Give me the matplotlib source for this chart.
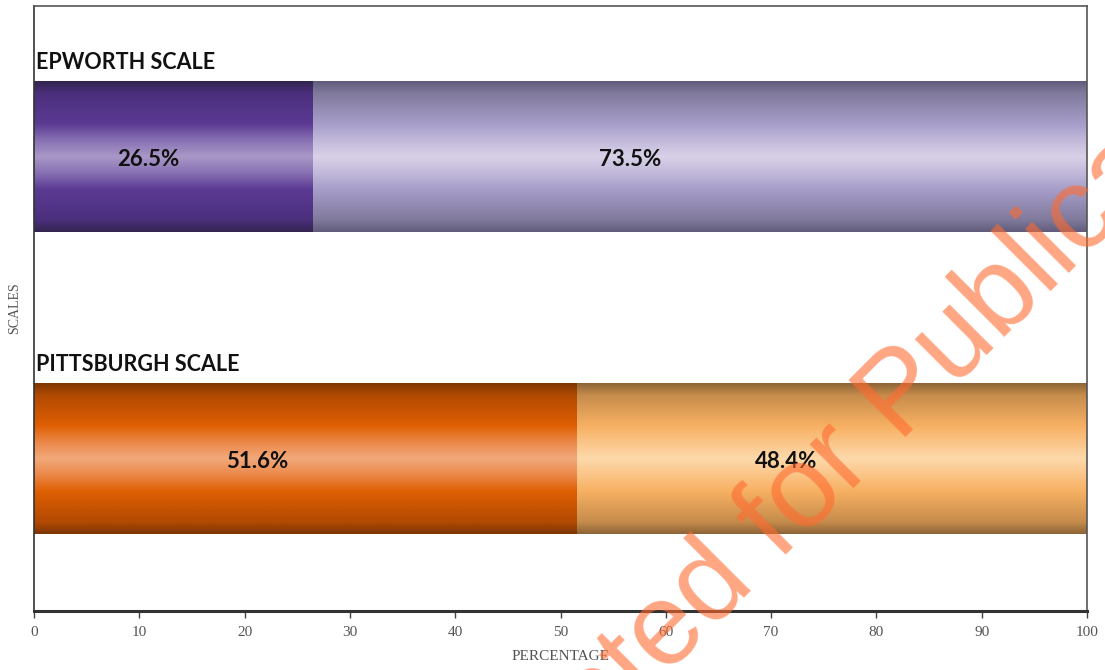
import numpy as np
import matplotlib.pyplot as plt
from matplotlib.colors import LinearSegmentedColormap

# ---- data ----
scales = ['PITTSBURGH SCALE', 'EPWORTH SCALE']
first_pct = [51.6, 26.5]
second_pct = [48.4, 73.5]
x_ticks = [0, 10, 20, 30, 40, 50, 60, 70, 80, 90, 100]

# ---- gradient definitions (bottom -> center -> top) ----
def grad_cmap(edge, dark, mid, soft, center):
    stops = [(0.0, edge), (0.08, dark), (0.28, mid), (0.40, soft), (0.50, center),
             (0.60, soft), (0.72, mid), (0.92, dark), (1.0, edge)]
    return LinearSegmentedColormap.from_list('g', stops)

cmaps = {
    (1, 0): grad_cmap('#33244f', '#4a2f7c', '#5b3a93', '#8a74b5', '#a998c7'),
    (1, 1): grad_cmap('#625c7c', '#807a9c', '#a69dc9', '#c4bbdc', '#d8d1e7'),
    (0, 0): grad_cmap('#7e3502', '#b24a02', '#df5f02', '#ec8a4e', '#f2a97a'),
    (0, 1): grad_cmap('#8e6538', '#c68c4c', '#f7b062', '#fbc68a', '#fdd9ab'),
}

fig = plt.figure(figsize=(11.05, 6.70), dpi=100)
ax = fig.add_axes([34 / 1105, 1 - 611 / 670, (1087 - 34) / 1105, 605 / 670])

ypos = np.arange(len(scales))
bar_h = 0.5
grad = np.linspace(0, 1, 256).reshape(-1, 1)

b1 = ax.barh(ypos, first_pct, height=bar_h, color='none', edgecolor='none')
b2 = ax.barh(ypos, second_pct, left=first_pct, height=bar_h, color='none', edgecolor='none')

for si, bars in enumerate([b1, b2]):
    for i, p in enumerate(bars.patches):
        x0, y0, w, h = p.get_x(), p.get_y(), p.get_width(), p.get_height()
        im = ax.imshow(grad, cmap=cmaps[(i, si)], extent=[x0, x0 + w, y0, y0 + h],
                       aspect='auto', origin='lower', zorder=2, interpolation='bilinear')
        im.set_clip_path(p)
        ax.text(x0 + 0.41 * w, y0 + h / 2 - 0.01, f'{w:.1f}%', ha='center', va='center',
                fontsize=16, fontweight='bold', family='Lato', color='#111111', zorder=4)

for i, name in enumerate(scales):
    ax.text(0.2, ypos[i] + bar_h / 2 + 0.028, name, ha='left', va='bottom',
            fontsize=15.5, fontweight='bold', family='Lato', color='#111111', zorder=4)

ax.set_xlim(0, 100)
ax.set_ylim(-0.505, 1.5)
ax.set_xticks(x_ticks)
ax.set_xticklabels([str(t) for t in x_ticks], family='Liberation Serif', fontsize=11, color='#555555')
ax.set_yticks([])
ax.tick_params(axis='x', direction='out', length=5, width=1, color='#444444', pad=6)
for s in ax.spines.values():
    s.set_color('#555555')
    s.set_linewidth(1.2)
ax.spines['bottom'].set_linewidth(2.2)
ax.spines['bottom'].set_color('#333333')
ax.spines['left'].set_color('#333333')

ax.set_xlabel('PERCENTAGE', family='Liberation Serif', fontsize=11, color='#555555', labelpad=8)
fig.text(15 / 1105, 1 - 308 / 670, 'SCALES', rotation=90, ha='center', va='center',
         family='Liberation Serif', fontsize=10, color='#555555')

# watermark
fig.text(0.757, 0.31, 'Accepted for Publication', rotation=45, rotation_mode='anchor',
         ha='center', va='center', fontsize=84, family='Liberation Sans',
         color='#ff6a30', alpha=0.6, zorder=10)

fig.savefig('out.png', dpi=100)
